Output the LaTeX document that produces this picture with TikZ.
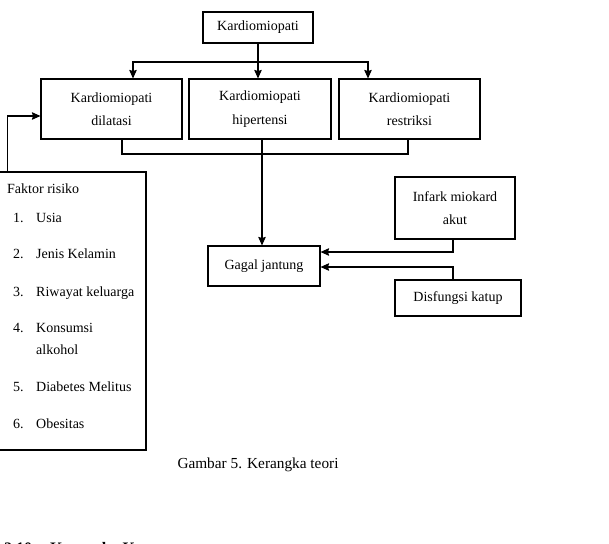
\documentclass[tikz,border=0pt]{standalone}
\usepackage{fontspec}
\setmainfont{Liberation Serif}
\usetikzlibrary{arrows.meta}

\begin{document}
\begin{tikzpicture}[x=1pt, y=-1pt,
    box/.style={rectangle, draw, line width=1.1pt, inner sep=2pt, align=center, font=\fontsize{14}{23.5}\selectfont},
    item/.style={anchor=base west, inner sep=0pt, font=\fontsize{14}{17}\selectfont},
    arrow/.style={-{Stealth[length=8.5pt,width=7.5pt,inset=1pt]}, line width=1.1pt}
]
\useasboundingbox (0,0) rectangle (609,543);

% Kardiomiopati (Top)
\node[box, minimum width=110pt, minimum height=31pt] (kardio) at (258,27.5) {Kardiomiopati};

% Kardiomiopati types (Second Row)
\node[box, minimum width=141pt, minimum height=60pt] (dilatasi) at (111.5,109) {Kardiomiopati\\dilatasi};
\node[box, minimum width=142pt, minimum height=60pt] (hipertensi) at (260,109) {Kardiomiopati\\hipertensi};
\node[box, minimum width=141pt, minimum height=60pt] (restriksi) at (409.5,109) {Kardiomiopati\\restriksi};

% Gagal jantung
\node[box, minimum width=112pt, minimum height=40pt] (gagal) at (264,266) {Gagal jantung};

% Other causes (Right)
\node[box, minimum width=120pt, minimum height=62pt] (infark) at (455,208) {Infark miokard\\akut};
\node[box, minimum width=126pt, minimum height=36pt] (katup) at (458,298) {Disfungsi katup};

% Faktor risiko (Left)
\node[box, minimum width=148pt, minimum height=278pt] (faktor) at (72,311) {};
\node[item] (fjudul) at (7,193) {Faktor risiko};
\node[item] (n1) at (13,222) {1.};
\node[item] (usia) at (36,222) {Usia};
\node[item] (n2) at (13,258) {2.};
\node[item] (jenis) at (36,258) {Jenis Kelamin};
\node[item] (n3) at (13,296) {3.};
\node[item] (riwayat) at (36,296) {Riwayat keluarga};
\node[item] (n4) at (13,332) {4.};
\node[item] (konsumsi) at (36,332) {Konsumsi};
\node[item] (alkohol) at (36,354) {alkohol};
\node[item] (n5) at (13,391) {5.};
\node[item] (diabetes) at (36,391) {Diabetes Melitus};
\node[item] (n6) at (13,428) {6.};
\node[item] (obesitas) at (36,428) {Obesitas};

% Arrows - Kardiomiopati to types
\coordinate (split) at (258,62);
\draw[line width=1.1pt] (kardio.south) -- (split);
\draw[arrow] (split) -| ([xshift=21.5pt]dilatasi.north);
\draw[arrow] (split) -- (split |- hipertensi.north);
\draw[arrow] (split) -| ([xshift=-41.5pt]restriksi.north);

% Arrows - types to Gagal jantung
\coordinate (join) at (262,154);
\draw[line width=1.1pt] ([xshift=10.5pt]dilatasi.south) |- (join) -| ([xshift=-1.5pt]restriksi.south);
\draw[arrow] (join |- hipertensi.south) -- (join |- gagal.north);

% Arrow - Faktor risiko to dilatasi
\draw[arrow] ([xshift=10pt]faktor.north west) |- ([yshift=-7pt]dilatasi.west);

% Arrows - other causes to Gagal jantung
\draw[arrow] ([xshift=-2pt]infark.south) |- ([yshift=14pt]gagal.east);
\draw[arrow] ([xshift=-5pt]katup.north) |- ([yshift=-1pt]gagal.east);

% Caption
\node[anchor=base, inner sep=0pt, font=\fontsize{15.3}{18}\selectfont] (caption) at (258,468) {Gambar 5. Kerangka teori};

% Next heading (cut off at the page edge)
\node[anchor=base west, inner sep=0pt, font=\fontsize{16}{19}\selectfont\bfseries] (nomor) at (4,553) {2.10};
\node[anchor=base west, inner sep=0pt, font=\fontsize{16}{19}\selectfont\bfseries] (judul) at (50,553) {Kerangka Konsep};

\end{tikzpicture}
\end{document}
